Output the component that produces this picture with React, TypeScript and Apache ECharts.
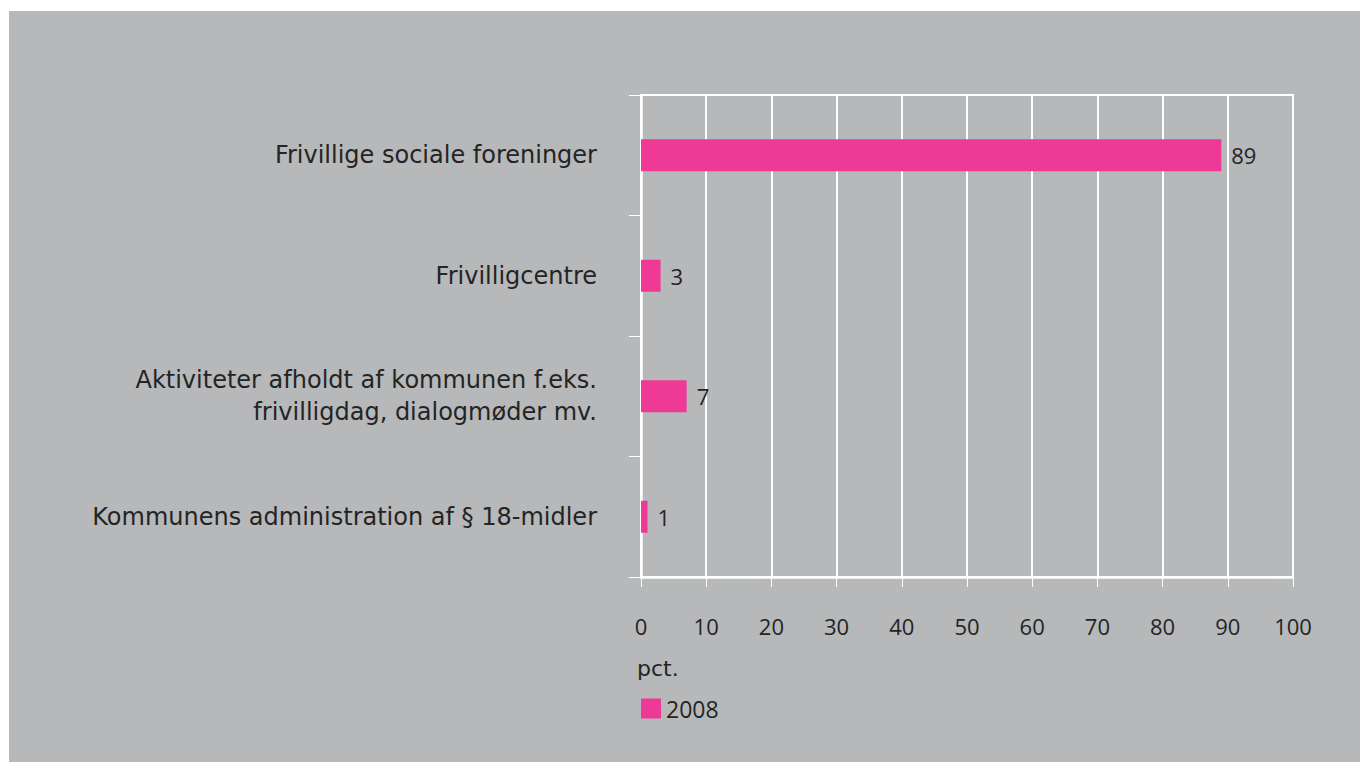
import React, { useEffect, useRef } from "react";
import * as echarts from "echarts";

const categories = [
  "Frivillige sociale foreninger",
  "Frivilligcentre",
  "Aktiviteter afholdt af kommunen f.eks.\nfrivilligdag, dialogmøder mv.",
  "Kommunens administration af § 18-midler",
];
const values2008 = [89, 3, 7, 1];
const seriesName = "2008";
const unitLabel = "pct.";

const FONT = "'Open Sans', sans-serif";
const CAT_FONT = "'DejaVu Sans', sans-serif";
const TEXT = "#242424";
const PINK = "#ee3a96";

export default function App() {
  const ref = useRef<HTMLDivElement>(null);
  useEffect(() => {
    const chart = echarts.init(ref.current!, null, { renderer: "svg" });
    chart.setOption({
      animation: false,
      backgroundColor: "#b7b8ba",
      textStyle: { fontFamily: FONT },
      grid: {
        left: 632,
        right: 67,
        top: 84,
        bottom: 185,
        show: true,
        borderColor: "#ffffff",
        borderWidth: 2,
        backgroundColor: "transparent",
      },
      legend: {
        left: 627,
        top: 681,
        itemWidth: 20,
        itemHeight: 20,
        itemGap: 8,
        icon: "rect",
        textStyle: { fontFamily: FONT, fontSize: 23, color: TEXT, padding: [0, 0, 0, 0] },
        data: [seriesName],
      },
      graphic: [
        {
          type: "text",
          left: 628,
          top: 646,
          style: { text: unitLabel, font: `22px ${CAT_FONT}`, fill: TEXT },
        },
      ],
      xAxis: {
        type: "value",
        min: 0,
        max: 100,
        interval: 10,
        axisLine: { show: true, lineStyle: { color: "#ffffff", width: 2.5 } },
        axisTick: { show: true, length: 10, lineStyle: { color: "#ffffff", width: 1 } },
        splitLine: { show: true, lineStyle: { color: "#ffffff", width: 2 } },
        axisLabel: { color: TEXT, fontSize: 22, fontFamily: FONT, margin: 38 },
      },
      yAxis: {
        type: "category",
        data: categories,
        inverse: true,
        axisLine: { show: true, lineStyle: { color: "#ffffff", width: 2.5 } },
        axisTick: { show: true, length: 12, lineStyle: { color: "#ffffff", width: 1 } },
        axisLabel: {
          color: TEXT,
          fontSize: 24,
          fontFamily: CAT_FONT,
          margin: 44,
          align: "right",
          lineHeight: 32,
          padding: [4, 0, 0, 0],
        },
      },
      series: [
        {
          name: seriesName,
          type: "bar",
          data: values2008,
          barWidth: 32,
          itemStyle: { color: PINK },
          label: {
            show: true,
            position: "right",
            distance: 10,
            color: TEXT,
            fontSize: 22,
            fontFamily: FONT,
          },
        },
      ],
    });
    return () => chart.dispose();
  }, []);
  return (
    <div
      ref={ref}
      style={{ position: "absolute", left: 9, top: 11, width: 1351, height: 751 }}
    />
  );
}
